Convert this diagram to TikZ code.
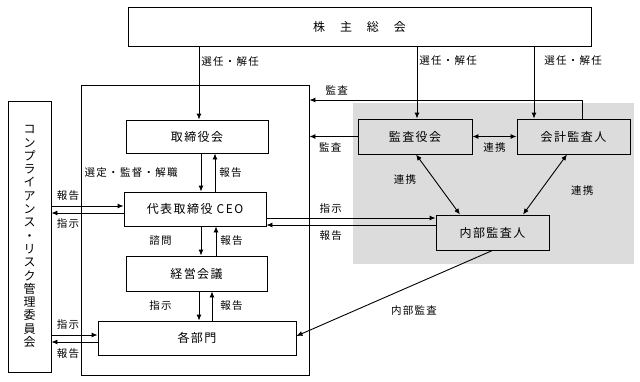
\documentclass[tikz,border=0pt]{standalone}
\usepackage{fontspec}
\setmainfont[LetterSpace=12]{Noto Sans CJK JP}
\usetikzlibrary{arrows.meta,positioning}
\definecolor{auditgray}{RGB}{220,220,220}

\tikzset{
  org/.style={draw,line width=0.9pt,inner sep=0pt,font=\fontsize{12}{14}\selectfont},
  lbl/.style={font=\fontsize{10.5}{12}\selectfont,inner sep=1pt},
  arr/.style={-{Latex[length=6pt,width=5pt]},line width=0.9pt},
  dbl/.style={{Latex[length=6pt,width=5pt]}-{Latex[length=6pt,width=5pt]},line width=0.9pt},
}

\begin{document}
\begin{tikzpicture}[x=1pt,y=-1pt]
\useasboundingbox (0,0) rectangle (640,381);
% audit area
\fill[auditgray] (353,103) rectangle (634,264);

\node[org,minimum width=463pt,minimum height=39pt] (soukai) at (359.5,26.5) {株　主　総　会};
\node[org,minimum width=228pt,minimum height=290pt] (frame) at (195,230) {};
\node[org,minimum width=142pt,minimum height=33pt] (tori) at (197,136.5) {取締役会};
\node[org,minimum width=142pt,minimum height=34pt] (ceo) at (195,209) {代表取締役 CEO};
\node[org,minimum width=141pt,minimum height=35pt] (keiei) at (196.5,273.5) {経営会議};
\node[org,minimum width=198pt,minimum height=34pt] (bumon) at (197,338) {各部門};
\node[org,minimum width=43pt,minimum height=271pt,align=center,font=\fontsize{12}{13.3}\selectfont] (comp) at (29.5,236.5)
  {コ\\ン\\プ\\ラ\\イ\\ア\\ン\\ス\\・\\リ\\ス\\ク\\管\\理\\委\\員\\会};
\node[org,minimum width=114pt,minimum height=35pt] (kansayaku) at (415,136.5) {監査役会};
\node[org,minimum width=113pt,minimum height=35pt] (kaikei) at (573.5,136.5) {会計監査人};
\node[org,minimum width=113pt,minimum height=35pt] (naibu) at (492.5,232.5) {内部監査人};

% shareholders
\coordinate (s1) at (199,0);
\coordinate (s2) at (417,0);
\coordinate (s3) at (534,0);
\draw[arr] (soukai.south -| s1) -- (tori.north -| s1) node[lbl,pos=0.2,right=1pt]{選任・解任};
\draw[arr] (soukai.south -| s2) -- (kansayaku.north -| s2) node[lbl,pos=0.2,right=1pt]{選任・解任};
\draw[arr] (soukai.south -| s3) -- (kaikei.north -| s3) node[lbl,pos=0.2,right=9pt]{選任・解任};

% audit lines
\coordinate (kt) at (582,100);
\draw[arr] ([xshift=8.5pt]kaikei.north) |- (frame.east |- kt) node[lbl,pos=0.95,above=3pt]{監査};
\draw[arr] (kansayaku.west) -- (frame.east |- kansayaku.west) node[lbl,pos=0.57,below=5pt]{監査};
\draw[dbl] (kansayaku.east) -- (kaikei.west) node[lbl,midway,below=5pt]{連携};
\draw[dbl] ([xshift=1pt]kansayaku.south) -- ([xshift=-32.5pt]naibu.north) node[lbl,pos=0.42,left=17pt]{連携};
\draw[dbl] ([xshift=-6.5pt]kaikei.south) -- ([xshift=30.5pt]naibu.north) node[lbl,pos=0.6,right=29pt]{連携};
\draw[arr] (naibu.south) -- ([yshift=2pt]bumon.east) node[lbl,pos=0.4,below=20pt]{内部監査};

% ceo and internal audit
\draw[arr] ([yshift=-9pt]ceo.east) -- ([yshift=-9pt]ceo.east -| naibu.west) node[lbl,pos=0.38,above=3pt]{指示};
\draw[arr] ([yshift=-16pt]ceo.east -| naibu.west) -- ([yshift=-16pt]ceo.east) node[lbl,pos=0.62,below=4pt]{報告};

% vertical chain
\draw[arr] ([xshift=4pt]tori.south) -- ([xshift=4pt]tori.south |- ceo.north) node[lbl,midway,left=22pt]{選定・監督・解職};
\draw[arr] ([xshift=20pt]ceo.north) -- ([xshift=20pt]ceo.north |- tori.south) node[lbl,midway,right=3pt]{報告};
\draw[arr] ([xshift=6pt]ceo.south) -- ([xshift=6pt]ceo.south |- keiei.north) node[lbl,midway,left=28pt]{諮問};
\draw[arr] ([xshift=21pt]ceo.south |- keiei.north) -- ([xshift=21pt]ceo.south) node[lbl,midway,right=3pt]{報告};
\draw[arr] ([xshift=2.5pt]keiei.south) -- ([xshift=2.5pt]keiei.south |- bumon.north) node[lbl,midway,left=26pt]{指示};
\draw[arr] ([xshift=15.5pt]keiei.south |- bumon.north) -- ([xshift=15.5pt]keiei.south) node[lbl,midway,right=7pt]{報告};

% compliance committee
\draw[arr] ([yshift=3pt]ceo.west -| comp.east) -- ([yshift=3pt]ceo.west) node[lbl,pos=0.23,above=4pt]{報告};
\draw[arr] ([yshift=-4pt]ceo.west) -- ([yshift=-4pt]ceo.west -| comp.east) node[lbl,pos=0.77,below=4pt]{指示};
\draw[arr] ([yshift=3pt]bumon.west -| comp.east) -- ([yshift=3pt]bumon.west) node[lbl,pos=0.36,above=4pt]{指示};
\draw[arr] ([yshift=-4pt]bumon.west) -- ([yshift=-4pt]bumon.west -| comp.east) node[lbl,pos=0.64,below=5pt]{報告};
\end{tikzpicture}
\end{document}
